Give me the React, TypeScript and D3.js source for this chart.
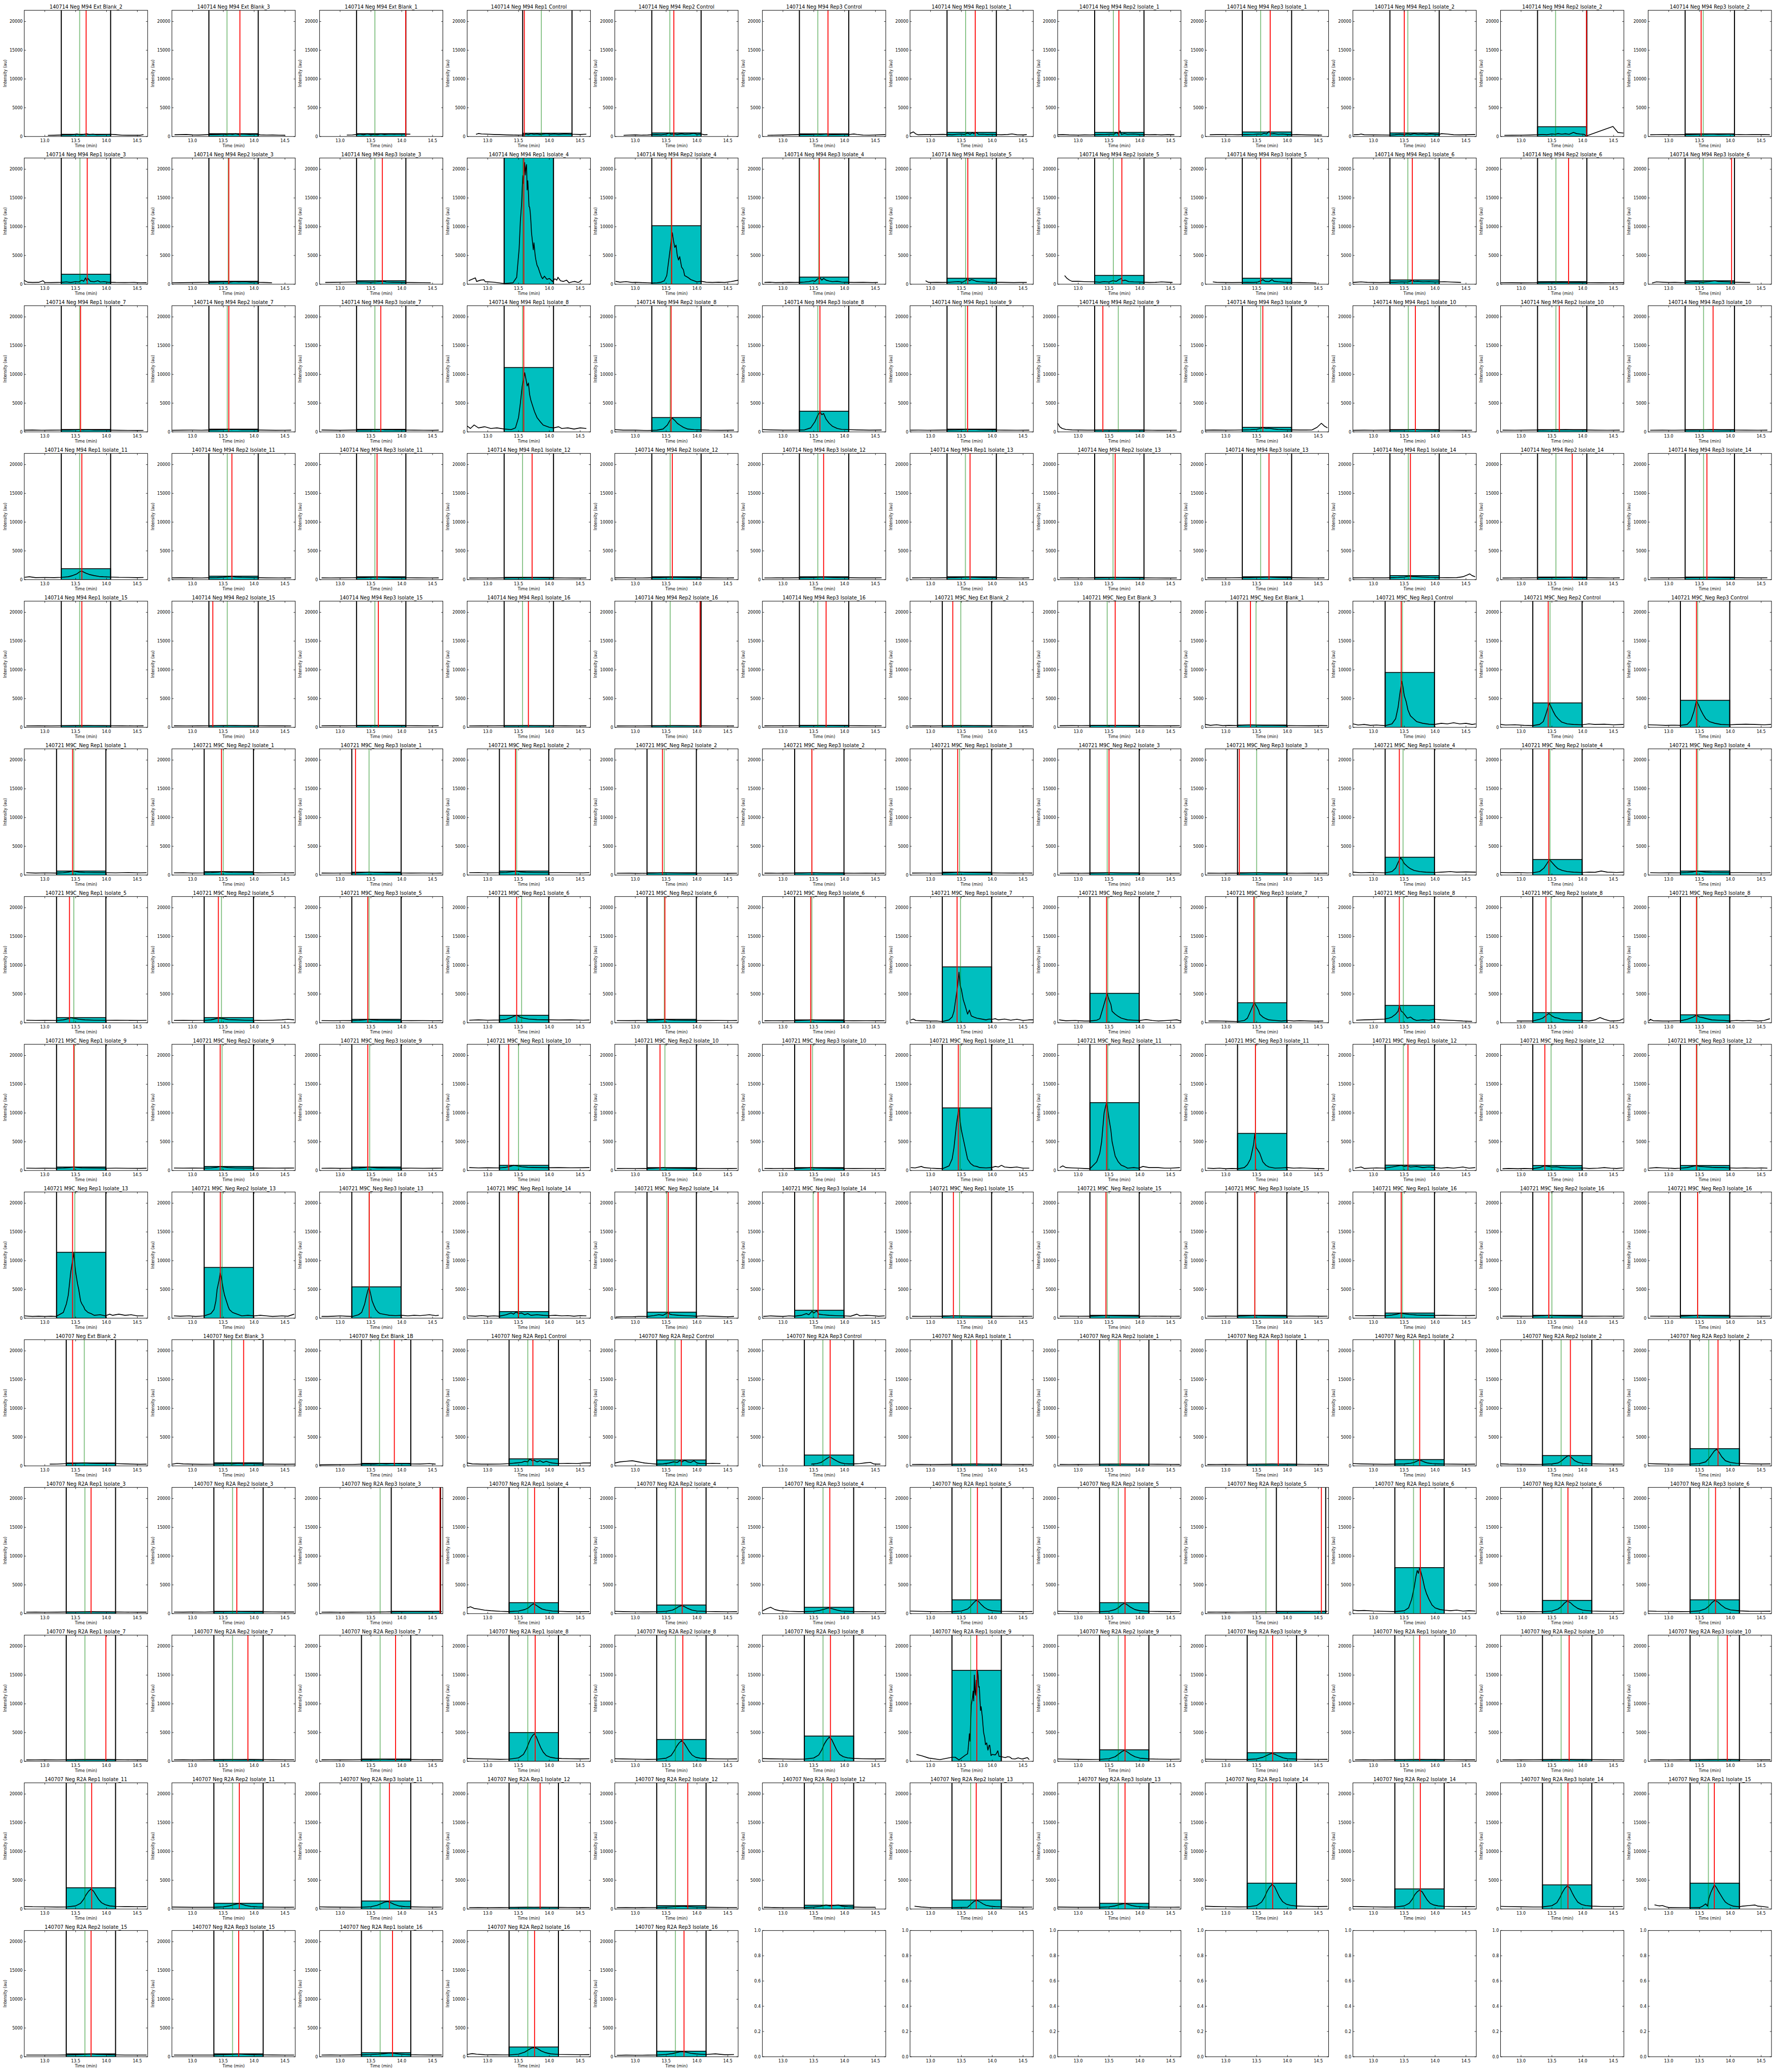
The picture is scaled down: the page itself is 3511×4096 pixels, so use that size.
import React from 'react';
import * as d3 from 'd3';

// grid of chromatogram panels, 12 per row
const COLS = 12;
const PANEL_W = 300;
const PANEL_H = 307;
const X_DOMAIN: [number, number] = [12.667, 14.667];
const Y_MAX = 21950;
const BOX_WIDTH = 0.8;

const xTicks = [13.0, 13.5, 14.0, 14.5];
const yTicks = [0, 5000, 10000, 15000, 20000];
const emptyYTicks = [0, 0.2, 0.4, 0.6, 0.8, 1.0];
const EMPTY_PANELS = 7;

const M94 = '140714 Neg M94';
const M9C = '140721 M9C_Neg';
const R2A = '140707 Neg R2A';
const reps = ['Rep1', 'Rep2', 'Rep3'];
const isolateNumbers = [1, 2, 3, 4, 5, 6, 7, 8, 9, 10, 11, 12, 13, 14, 15, 16];

const isolates = (prefix: string) =>
  isolateNumbers.flatMap(n => reps.map(r => `${prefix} ${r} Isolate_${n}`));

const panelTitles = [
  `${M94} Ext Blank_2`, `${M94} Ext Blank_3`, `${M94} Ext Blank_1`,
  `${M94} Rep1 Control`, `${M94} Rep2 Control`, `${M94} Rep3 Control`,
  ...isolates(M94),
  `${M9C} Ext Blank_2`, `${M9C} Ext Blank_3`, `${M9C} Ext Blank_1`,
  `${M9C} Rep1 Control`, `${M9C} Rep2 Control`, `${M9C} Rep3 Control`,
  ...isolates(M9C),
  '140707 Neg Ext Blank_2', '140707 Neg Ext Blank_3', '140707 Neg Ext Blank_1B',
  `${R2A} Rep1 Control`, `${R2A} Rep2 Control`, `${R2A} Rep3 Control`,
  ...isolates(R2A).filter(t => t !== `${R2A} Rep1 Isolate_13`),
];

// left edge of the integration window (min)
const boxStart = [
  13.267, 13.267, 13.267, 13.567, 13.267, 13.267, 13.267, 13.267, 13.267, 13.267, 13.267, 13.267,
  13.267, 13.267, 13.267, 13.267, 13.267, 13.267, 13.267, 13.267, 13.267, 13.267, 13.267, 13.267,
  13.267, 13.267, 13.267, 13.267, 13.267, 13.267, 13.267, 13.267, 13.267, 13.267, 13.267, 13.267,
  13.267, 13.267, 13.267, 13.267, 13.267, 13.267, 13.267, 13.267, 13.267, 13.267, 13.267, 13.267,
  13.267, 13.267, 13.267, 13.267, 13.267, 13.267, 13.19, 13.19, 13.19, 13.19, 13.19, 13.19,
  13.19, 13.19, 13.19, 13.19, 13.19, 13.19, 13.19, 13.19, 13.19, 13.19, 13.19, 13.19,
  13.19, 13.19, 13.19, 13.19, 13.19, 13.19, 13.19, 13.19, 13.19, 13.19, 13.19, 13.19,
  13.19, 13.19, 13.19, 13.19, 13.19, 13.19, 13.19, 13.19, 13.19, 13.19, 13.19, 13.19,
  13.19, 13.19, 13.19, 13.19, 13.19, 13.19, 13.19, 13.19, 13.19, 13.19, 13.19, 13.19,
  13.347, 13.347, 13.347, 13.347, 13.347, 13.347, 13.347, 13.347, 13.347, 13.347, 13.347, 13.347,
  13.347, 13.347, 13.83, 13.347, 13.347, 13.347, 13.347, 13.347, 13.82, 13.347, 13.347, 13.347,
  13.347, 13.347, 13.347, 13.347, 13.347, 13.347, 13.347, 13.347, 13.347, 13.347, 13.347, 13.347,
  13.347, 13.347, 13.347, 13.347, 13.347, 13.347, 13.347, 13.347, 13.347, 13.347, 13.347, 13.347,
  13.347, 13.347, 13.347, 13.347, 13.347,
];

// height of the shaded window (au)
const boxHeight = [
  380, 490, 490, 560, 620, 460, 720, 720, 790, 620, 1700, 460,
  1730, 510, 600, 23000, 10170, 1240, 1040, 1530, 1040, 740, 450, 600,
  420, 480, 450, 11200, 2500, 3600, 480, 350, 800, 400, 400, 400,
  1900, 600, 500, 400, 500, 500, 500, 400, 500, 700, 450, 450,
  300, 300, 350, 300, 300, 350, 300, 350, 400, 9540, 4250, 4700,
  700, 600, 500, 700, 400, 400, 500, 400, 400, 3100, 2700, 700,
  900, 900, 600, 1300, 600, 500, 9720, 5120, 3480, 3020, 1770, 1380,
  600, 700, 600, 900, 500, 500, 10880, 11800, 6450, 930, 870, 870,
  11460, 8830, 5450, 1150, 1050, 1380, 400, 500, 500, 900, 500, 500,
  510, 540, 440, 1230, 1030, 1890, 300, 300, 300, 1100, 1800, 3000,
  300, 400, 400, 1900, 1500, 1100, 2400, 1900, 400, 8000, 2300, 2400,
  300, 300, 400, 5000, 3800, 4400, 15820, 2000, 1500, 300, 300, 300,
  3700, 1000, 1400, 300, 590, 665, 1570, 1000, 4500, 3500, 4200, 4500,
  500, 500, 700, 1700, 960,
];

// expected retention time (green) and detected apex (red)
const greenLine = [
  13.565, 13.56, 13.565, 13.87, 13.56, 13.565, 13.568, 13.57, 13.565, 13.558, 13.56, 13.56,
  13.57, 13.58, 13.565, 13.57, 13.58, 13.58, 13.568, 13.57, 13.565, 13.558, 13.565, 13.56,
  13.565, 13.565, 13.565, 13.565, 13.565, 13.565, 13.565, 13.65, 13.565, 13.565, 13.565, 13.565,
  13.565, 13.565, 13.565, 13.565, 13.565, 13.565, 13.565, 13.565, 13.565, 13.565, 13.565, 13.565,
  13.565, 13.565, 13.565, 13.565, 13.565, 13.565, 13.49, 13.47, 13.49, 13.47, 13.47, 13.47,
  13.47, 13.5, 13.47, 13.47, 13.47, 13.47, 13.47, 13.47, 13.5, 13.48, 13.47, 13.47,
  13.47, 13.47, 13.47, 13.55, 13.47, 13.47, 13.485, 13.48, 13.47, 13.485, 13.487, 13.46,
  13.48, 13.48, 13.48, 13.5, 13.48, 13.48, 13.48, 13.48, 13.48, 13.485, 13.487, 13.46,
  13.486, 13.48, 13.47, 13.494, 13.51, 13.49, 13.47, 13.47, 13.47, 13.47, 13.5, 13.47,
  13.64, 13.636, 13.64, 13.65, 13.644, 13.647, 13.65, 13.65, 13.65, 13.65, 13.65, 13.65,
  13.65, 13.65, 13.65, 13.65, 13.65, 13.65, 13.65, 13.65, 13.65, 13.65, 13.65, 13.65,
  13.65, 13.65, 13.65, 13.65, 13.65, 13.65, 13.65, 13.65, 13.65, 13.65, 13.65, 13.8,
  13.65, 13.65, 13.65, 13.65, 13.65, 13.65, 13.65, 13.65, 13.65, 13.65, 13.65, 13.644,
  13.65, 13.65, 13.65, 13.65, 13.65,
];

const redLine = [
  13.67, 13.77, 14.065, 13.594, 13.625, 13.73, 13.724, 13.66, 13.72, 13.5, 14.06, 13.526,
  13.688, 13.59, 13.685, 13.586, 13.59, 13.59, 13.604, 13.708, 13.565, 13.63, 13.77, 14.02,
  13.58, 13.59, 13.66, 13.585, 13.58, 13.6, 13.6, 13.4, 13.6, 13.68, 13.62, 13.72,
  13.6, 13.64, 13.6, 13.72, 13.6, 13.66, 13.64, 13.6, 13.7, 13.6, 13.83, 13.62,
  13.6, 13.33, 13.62, 13.66, 14.05, 13.7, 13.36, 13.6, 13.4, 13.45, 13.44, 13.45,
  13.45, 13.47, 13.25, 13.45, 13.44, 13.47, 13.44, 13.5, 13.22, 13.42, 13.45, 13.45,
  13.4, 13.42, 13.45, 13.47, 13.48, 13.45, 13.43, 13.46, 13.454, 13.42, 13.404, 13.45,
  13.47, 13.45, 13.45, 13.34, 13.4, 13.45, 13.45, 13.46, 13.48, 13.56, 13.386, 13.45,
  13.45, 13.452, 13.473, 13.5, 13.534, 13.57, 13.37, 13.45, 13.47, 13.45, 13.45, 13.47,
  13.45, 13.83, 13.88, 13.733, 13.745, 13.766, 13.75, 13.68, 13.85, 13.75, 13.8, 13.8,
  13.75, 13.72, 14.62, 13.76, 13.76, 13.76, 13.76, 13.76, 14.55, 13.76, 13.76, 13.76,
  13.99, 13.9, 13.9, 13.77, 13.77, 13.77, 13.75, 13.76, 13.76, 13.75, 13.78, 13.95,
  13.76, 13.76, 13.8, 13.85, 13.85, 13.79, 13.74, 13.76, 13.76, 13.76, 13.76, 13.74,
  13.75, 13.75, 13.85, 13.76, 13.79,
];

// chromatograms as "time intensity" pairs
const traces = [
  '13.05 200 13.15 220 13.27 260 13.35 300 13.42 280 13.48 350 13.52 450 13.56 330 13.6 300 13.64 380 13.68 480 13.72 330 13.78 400 13.84 300 13.9 330 13.98 340 14.07 380 14.15 320 14.25 230 14.35 220 14.45 210 14.55 220 14.6 330',
  '12.71 300 12.8 320 12.9 350 13.0 280 13.1 260 13.2 300 13.3 350 13.4 330 13.5 400 13.55 350 13.6 420 13.65 360 13.7 480 13.75 330 13.8 420 13.88 380 13.95 330 14.02 400 14.1 280 14.2 250 14.3 260 14.4 230 14.5 220',
  '13.11 250 13.2 270 13.27 350 13.32 420 13.38 300 13.44 460 13.5 320 13.56 380 13.6 300 13.66 450 13.72 350 13.8 420 13.88 380 13.95 430 14.02 400 14.1 420 14.14 400',
  '12.81 380 12.85 520 12.9 450 13.0 400 13.1 350 13.2 320 13.3 280 13.4 260 13.5 240 13.57 260 13.62 420 13.66 320 13.7 500 13.75 380 13.8 450 13.85 350 13.9 420 13.96 500 14.02 380 14.08 440 14.15 360 14.25 460 14.32 400 14.4 380 14.5 350 14.6 400',
  '12.81 200 12.9 250 13.0 280 13.1 230 13.2 260 13.27 300 13.35 330 13.42 280 13.5 400 13.55 620 13.58 380 13.63 450 13.68 350 13.75 480 13.8 380 13.88 420 13.95 550 14.0 380 14.07 420 14.12 300 14.17 320',
  '12.75 200 12.85 230 13.0 260 13.15 300 13.27 330 13.35 350 13.45 320 13.55 400 13.6 330 13.65 380 13.7 460 13.74 300 13.8 350 13.9 320 14.0 380 14.07 330 14.15 430 14.2 360 14.3 250 14.4 230 14.5 270 14.6 300 14.66 320',
  '12.66 500 12.72 800 12.76 450 12.8 300 12.9 320 13.0 330 13.1 350 13.2 370 13.27 350 13.35 300 13.42 380 13.5 420 13.55 350 13.6 600 13.64 380 13.68 650 13.7 450 13.74 700 13.78 380 13.85 400 13.92 350 14.0 380 14.07 330 14.15 300 14.25 350 14.32 450 14.4 300 14.5 280 14.56 320',
  '12.67 300 12.75 330 12.85 280 13.0 250 13.1 280 13.2 270 13.27 300 13.35 320 13.45 350 13.52 400 13.58 380 13.62 700 13.65 400 13.68 1000 13.7 350 13.75 500 13.8 380 13.9 420 14.0 350 14.07 330 14.15 300 14.25 320 14.35 280 14.45 330 14.56 300',
  '12.74 300 12.85 320 12.95 330 13.1 310 13.2 300 13.27 320 13.35 330 13.45 360 13.52 420 13.58 380 13.62 550 13.66 420 13.7 900 13.73 450 13.78 500 13.85 380 13.92 420 14.0 350 14.06 300 14.15 320 14.3 280 14.45 260 14.56 250',
  '12.68 300 12.75 320 12.8 420 12.85 300 13.0 280 13.15 270 13.27 250 13.35 300 13.42 380 13.5 320 13.55 450 13.6 350 13.66 500 13.72 380 13.8 420 13.86 350 13.92 430 14.0 370 14.06 330 14.1 500 14.2 420 14.3 300 14.4 280 14.5 300 14.6 330 14.65 350',
  '12.73 200 12.85 220 13.0 230 13.15 260 13.27 300 13.35 350 13.42 300 13.5 450 13.55 380 13.6 500 13.66 400 13.72 480 13.78 380 13.85 700 13.9 500 13.96 420 14.02 380 14.06 100 14.49 1750 14.57 700 14.66 600',
  '12.7 300 12.8 310 12.95 320 13.1 300 13.27 320 13.35 330 13.45 360 13.55 400 13.62 380 13.7 420 13.8 360 13.9 380 14.0 420 14.06 340 14.15 320 14.25 310 14.35 320 14.45 330 14.55 340 14.64 300',
  '12.66 700 12.72 350 12.8 300 12.9 320 12.97 600 13.0 300 13.1 280 13.2 300 13.27 320 13.35 400 13.42 300 13.5 450 13.55 380 13.6 700 13.63 500 13.66 1100 13.68 600 13.7 1000 13.74 500 13.8 420 13.86 600 13.9 380 13.96 450 14.02 350 14.07 330 14.15 300 14.3 280 14.45 300 14.55 250 14.65 260',
  '12.67 250 12.8 260 12.95 280 13.1 300 13.27 320 13.35 350 13.45 380 13.55 420 13.6 350 13.68 450 13.75 380 13.85 420 13.95 350 14.02 400 14.07 330 14.15 300 14.22 280 14.29 250',
  '12.76 300 12.9 330 13.05 360 13.2 380 13.3 400 13.4 380 13.5 350 13.6 400 13.66 450 13.7 520 13.75 380 13.85 350 13.95 330 14.06 300 14.2 280 14.35 270 14.47 250',
  '12.69 600 12.8 1100 12.82 480 12.89 720 12.94 760 12.96 430 13.09 360 13.27 120 13.41 240 13.47 1200 13.51 6200 13.53 11000 13.55 14000 13.56 16700 13.57 18900 13.58 17500 13.6 21150 13.61 19000 13.62 20300 13.63 20800 13.64 16400 13.65 18000 13.66 15900 13.67 13500 13.68 13400 13.69 12500 13.7 11000 13.71 9000 13.72 8000 13.74 6000 13.75 7200 13.77 5000 13.78 4300 13.8 3300 13.82 2870 13.84 2200 13.85 1900 13.87 1300 13.89 950 13.92 1400 13.96 840 14.0 1000 14.05 480 14.09 950 14.12 700 14.14 1200 14.18 600 14.23 480 14.28 700 14.32 240 14.37 400 14.41 480 14.47 300 14.53 720',
  '12.68 500 12.75 350 12.85 450 12.95 300 13.0 320 13.1 280 13.2 250 13.27 200 13.35 250 13.42 350 13.47 600 13.51 1500 13.54 4000 13.57 6500 13.6 8960 13.62 7500 13.64 6400 13.66 6800 13.68 5000 13.7 4200 13.72 4800 13.75 3000 13.78 2500 13.8 1500 13.85 1200 13.9 800 13.95 600 14.0 400 14.07 500 14.15 350 14.25 300 14.35 350 14.45 300 14.55 450 14.67 700',
  '12.7 300 12.78 350 12.88 280 13.0 300 13.1 320 13.2 300 13.27 330 13.35 380 13.42 450 13.48 600 13.52 500 13.56 900 13.6 1100 13.63 700 13.66 1000 13.7 700 13.75 550 13.8 450 13.88 500 13.95 380 14.02 350 14.07 330 14.15 300 14.3 320 14.45 280 14.54 300',
  '12.92 600 12.96 350 13.0 300 13.1 320 13.2 300 13.27 330 13.35 380 13.45 450 13.52 350 13.58 700 13.6 1050 13.63 600 13.66 800 13.7 700 13.74 500 13.8 420 13.88 380 13.95 350 14.07 330 14.15 320 14.25 300 14.35 280 14.45 300 14.56 300',
  '12.78 1500 12.82 1000 12.86 700 12.9 500 13.0 500 13.1 450 13.2 420 13.27 400 13.35 350 13.42 450 13.5 380 13.56 600 13.62 500 13.66 800 13.7 1000 13.72 600 13.76 700 13.82 450 13.9 400 14.0 380 14.07 350 14.15 300 14.25 320 14.35 400 14.45 350 14.53 300',
  '12.79 400 12.85 320 12.95 300 13.1 280 13.27 300 13.35 320 13.45 300 13.52 380 13.57 600 13.6 800 13.64 500 13.7 450 13.75 800 13.78 500 13.85 420 13.95 350 14.06 300 14.2 280 14.35 250 14.47 200',
  '12.66 300 12.72 350 12.8 400 12.9 330 13.0 300 13.1 280 13.2 300 13.27 320 13.35 350 13.45 400 13.55 380 13.6 500 13.63 700 13.66 450 13.72 500 13.8 400 13.9 450 14.0 380 14.07 400 14.15 420 14.25 380 14.35 350 14.42 300',
  '12.67 250 12.85 260 13.0 240 13.2 250 13.35 280 13.5 300 13.65 320 13.8 280 13.95 300 14.1 270 14.3 260 14.5 270 14.67 280',
  '12.73 200 12.8 400 12.9 350 13.0 300 13.1 320 13.2 280 13.27 300 13.35 380 13.45 420 13.55 350 13.65 450 13.75 600 13.8 480 13.9 420 14.0 380 14.07 350 14.15 320 14.25 300 14.32 300',
  '12.67 300 12.8 320 12.95 290 13.1 300 13.27 310 13.4 330 13.5 360 13.56 420 13.62 350 13.7 380 13.8 330 13.9 350 14.0 320 14.07 300 14.2 280 14.35 270 14.5 260 14.6 270',
  '12.67 280 12.85 300 13.0 310 13.15 290 13.27 320 13.4 350 13.5 380 13.58 460 13.63 380 13.7 420 13.8 360 13.92 380 14.07 330 14.2 300 14.35 280 14.5 290 14.6 300',
  '12.7 320 12.85 300 13.0 280 13.15 300 13.27 330 13.38 360 13.48 340 13.56 400 13.62 380 13.67 440 13.72 360 13.8 390 13.9 350 14.0 370 14.07 320 14.2 300 14.35 290 14.5 280 14.6 300',
  '12.67 1000 12.72 600 12.78 1200 12.85 700 12.95 900 13.05 600 13.15 700 13.27 500 13.38 400 13.45 700 13.5 2500 13.53 5000 13.56 8000 13.58 9000 13.6 10300 13.62 9200 13.64 8000 13.66 8500 13.68 6500 13.7 5500 13.73 4500 13.76 3500 13.8 2500 13.85 1800 13.9 1200 13.95 1000 14.0 800 14.07 700 14.15 900 14.2 600 14.3 700 14.4 500 14.5 700 14.6 600',
  '12.67 400 12.8 300 13.0 300 13.2 250 13.35 300 13.45 500 13.52 1200 13.56 2000 13.6 2400 13.64 2000 13.68 1500 13.72 1200 13.78 800 13.85 500 13.95 400 14.07 350 14.2 300 14.4 280 14.6 300',
  '12.67 400 12.8 350 13.0 300 13.2 300 13.35 350 13.45 700 13.52 1800 13.56 2800 13.6 3500 13.63 3000 13.66 3200 13.7 2200 13.75 1500 13.8 1000 13.88 600 13.95 450 14.07 400 14.2 350 14.4 300 14.6 320',
  '12.67 300 12.8 310 12.95 290 13.1 300 13.27 320 13.4 340 13.5 380 13.58 460 13.62 400 13.7 420 13.8 360 13.9 340 14.0 350 14.07 320 14.2 300 14.4 290 14.6 300',
  '12.67 1500 12.7 900 12.74 600 12.8 420 12.9 350 13.0 320 13.15 300 13.27 300 13.4 320 13.5 340 13.6 330 13.7 350 13.8 320 13.9 330 14.07 300 14.2 290 14.4 280 14.6 290',
  '12.67 300 12.8 320 13.0 300 13.15 310 13.27 340 13.4 380 13.5 450 13.56 600 13.6 750 13.65 600 13.7 650 13.78 500 13.85 420 13.95 380 14.07 350 14.2 330 14.3 320 14.4 350 14.48 800 14.55 1500 14.6 1000 14.65 700',
  '12.67 280 12.85 300 13.0 290 13.2 300 13.27 310 13.4 330 13.5 350 13.6 380 13.68 420 13.75 360 13.85 350 14.0 330 14.07 300 14.25 290 14.45 280 14.6 290',
  '12.7 300 12.9 290 13.05 300 13.27 320 13.4 340 13.5 360 13.58 400 13.63 370 13.72 390 13.85 350 13.95 340 14.07 320 14.2 300 14.4 290 14.6 300',
  '12.7 290 12.9 300 13.1 290 13.27 310 13.4 330 13.5 340 13.6 360 13.7 390 13.75 370 13.85 350 14.0 330 14.07 310 14.25 300 14.45 290 14.6 300',
  '12.67 400 12.75 500 12.85 350 13.0 380 13.15 350 13.27 400 13.38 500 13.45 700 13.52 1000 13.57 1400 13.6 1500 13.63 1300 13.67 1100 13.72 900 13.8 700 13.88 550 13.95 500 14.07 450 14.2 400 14.35 380 14.5 350 14.6 380',
  '12.67 300 12.8 320 13.0 300 13.15 290 13.27 320 13.4 350 13.5 420 13.58 500 13.64 560 13.7 450 13.8 400 13.9 380 14.07 330 14.2 300 14.4 290 14.6 300',
  '12.7 300 12.85 290 13.0 300 13.2 310 13.27 320 13.4 350 13.52 400 13.6 460 13.66 400 13.75 380 13.85 350 14.0 330 14.07 310 14.25 300 14.45 290 14.6 300',
  '12.7 280 12.9 290 13.1 280 13.27 300 13.4 320 13.5 340 13.6 330 13.7 360 13.78 340 13.88 330 14.07 300 14.25 290 14.45 280 14.6 290',
  '12.67 300 12.85 310 13.0 290 13.2 300 13.27 320 13.4 350 13.5 380 13.58 440 13.65 400 13.75 380 13.85 360 14.0 340 14.07 320 14.25 300 14.45 290 14.6 300',
  '12.7 290 12.9 300 13.1 300 13.27 320 13.4 340 13.5 370 13.6 420 13.66 460 13.72 400 13.82 370 13.95 340 14.07 320 14.25 300 14.45 300 14.6 310',
  '12.7 300 12.9 310 13.1 300 13.27 320 13.4 350 13.5 380 13.58 450 13.64 420 13.72 400 13.82 370 13.95 340 14.07 320 14.25 300 14.45 290 14.6 300',
  '12.7 290 12.9 300 13.1 290 13.27 300 13.4 320 13.5 350 13.6 380 13.68 360 13.78 340 13.9 330 14.07 300 14.25 290 14.45 280 14.6 290',
  '12.7 300 12.9 300 13.1 310 13.27 330 13.4 350 13.5 380 13.6 400 13.7 450 13.76 400 13.85 370 13.95 350 14.07 320 14.25 300 14.45 290 14.6 300',
  '12.67 300 12.85 310 13.0 300 13.2 300 13.27 320 13.4 380 13.5 450 13.58 600 13.63 550 13.7 500 13.8 450 13.9 400 14.0 380 14.07 350 14.2 330 14.35 350 14.45 500 14.52 800 14.56 1000 14.6 700 14.65 500',
  '12.7 280 12.9 290 13.1 300 13.27 310 13.4 330 13.5 350 13.6 380 13.7 360 13.83 400 13.9 350 14.0 330 14.07 310 14.25 300 14.45 290 14.6 300',
  '12.7 290 12.9 300 13.1 300 13.27 320 13.4 340 13.5 360 13.6 400 13.7 380 13.8 360 13.9 350 14.07 320 14.25 300 14.45 300 14.6 310',
  '12.7 250 12.9 260 13.1 250 13.27 270 13.4 280 13.5 300 13.6 320 13.7 300 13.8 290 13.95 280 14.07 270 14.25 260 14.45 250 14.6 260',
  '12.7 260 12.9 250 13.1 260 13.27 270 13.4 290 13.5 300 13.6 310 13.7 300 13.8 290 13.95 280 14.07 270 14.25 260 14.45 260 14.6 250',
  '12.7 270 12.9 280 13.1 270 13.27 290 13.4 300 13.5 320 13.62 350 13.7 330 13.8 310 13.95 300 14.07 290 14.25 280 14.45 270 14.6 280',
  '12.7 250 12.9 260 13.1 270 13.27 280 13.4 280 13.5 290 13.66 300 13.75 290 13.9 280 14.07 270 14.25 260 14.45 250 14.6 260',
  '12.7 240 12.9 250 13.1 250 13.27 260 13.4 270 13.5 280 13.6 290 13.75 280 13.9 270 14.07 260 14.25 250 14.45 250 14.6 240',
  '12.7 260 12.9 270 13.1 280 13.27 290 13.4 300 13.55 320 13.7 340 13.8 320 13.95 300 14.07 290 14.25 280 14.45 270 14.6 270',
  '12.7 250 12.9 260 13.05 250 13.19 270 13.3 290 13.4 300 13.5 320 13.6 300 13.7 290 13.85 280 13.99 270 14.15 260 14.35 250 14.55 260 14.65 250',
  '12.7 280 12.9 300 13.05 290 13.19 300 13.3 330 13.42 350 13.5 330 13.6 340 13.75 320 13.9 300 13.99 290 14.15 280 14.35 270 14.55 280 14.65 290',
  '12.67 500 12.75 350 12.85 450 12.95 300 13.05 350 13.19 320 13.3 380 13.4 420 13.5 380 13.6 350 13.75 340 13.9 320 13.99 300 14.15 290 14.35 280 14.55 300 14.65 290',
  '12.67 600 12.75 400 12.85 500 12.95 350 13.05 400 13.19 300 13.3 600 13.36 1500 13.4 3500 13.43 6000 13.46 8000 13.48 7000 13.5 5500 13.53 4500 13.56 3000 13.6 2000 13.65 1500 13.7 1000 13.8 700 13.9 550 13.99 500 14.1 700 14.2 600 14.3 800 14.4 600 14.5 700 14.6 500 14.66 600',
  '12.67 500 12.75 400 12.9 450 13.05 350 13.19 300 13.3 500 13.36 1000 13.4 2200 13.44 3600 13.46 4200 13.49 3500 13.52 2800 13.56 2000 13.6 1500 13.66 900 13.75 600 13.85 500 13.99 450 14.1 600 14.2 500 14.35 550 14.5 450 14.66 500',
  '12.67 450 12.8 400 12.95 350 13.1 380 13.19 350 13.3 500 13.36 1200 13.41 2800 13.45 4600 13.48 4000 13.52 3000 13.56 2200 13.6 1500 13.66 1000 13.75 700 13.85 500 13.99 450 14.1 500 14.25 550 14.4 500 14.55 450 14.66 500',
  '12.7 400 12.85 350 13.0 380 13.19 350 13.3 400 13.4 550 13.45 700 13.5 600 13.56 500 13.65 450 13.8 420 13.99 400 14.15 380 14.35 420 14.55 380 14.65 400',
  '12.7 380 12.85 400 13.0 360 13.19 380 13.3 420 13.42 500 13.48 600 13.55 500 13.65 450 13.8 420 13.99 400 14.15 380 14.35 400 14.55 380 14.65 390',
  '12.7 350 12.9 340 13.05 360 13.19 350 13.3 380 13.42 450 13.48 500 13.56 430 13.7 400 13.85 380 13.99 360 14.15 350 14.35 360 14.55 340 14.65 350',
  '12.7 400 12.85 420 13.0 380 13.19 400 13.3 450 13.42 600 13.46 700 13.52 550 13.62 480 13.75 450 13.9 420 13.99 400 14.15 420 14.35 400 14.55 380 14.65 420',
  '12.7 320 12.9 330 13.05 300 13.19 320 13.3 340 13.42 380 13.48 400 13.56 370 13.7 350 13.85 330 13.99 320 14.15 310 14.35 320 14.55 300 14.65 310',
  '12.7 330 12.9 320 13.05 330 13.19 340 13.3 350 13.42 380 13.5 400 13.58 370 13.7 350 13.85 340 13.99 330 14.15 320 14.35 330 14.55 320 14.65 330',
  '12.7 350 12.9 360 13.05 340 13.19 350 13.3 380 13.42 450 13.48 500 13.56 430 13.7 400 13.85 380 13.99 370 14.15 360 14.35 350 14.55 360 14.65 350',
  '12.7 320 12.9 330 13.05 310 13.19 330 13.3 350 13.42 370 13.5 400 13.6 370 13.72 350 13.85 340 13.99 330 14.15 320 14.35 320 14.55 310 14.65 320',
  '12.7 330 12.9 320 13.05 330 13.19 330 13.3 350 13.45 380 13.52 400 13.62 370 13.75 350 13.88 340 13.99 330 14.15 320 14.35 330 14.55 320 14.65 330',
  '12.67 500 12.8 400 12.95 450 13.1 400 13.19 380 13.3 600 13.36 1200 13.4 2200 13.44 3000 13.47 2600 13.5 2000 13.55 1500 13.6 1100 13.66 800 13.75 600 13.85 500 13.99 450 14.1 500 14.25 600 14.35 500 14.5 550 14.66 500',
  '12.67 450 12.8 400 12.95 420 13.1 380 13.19 400 13.3 600 13.37 1200 13.42 2000 13.46 2700 13.5 2200 13.55 1600 13.6 1100 13.67 800 13.75 600 13.85 500 13.99 450 14.1 500 14.2 480 14.3 700 14.4 500 14.55 450 14.66 500',
  '12.7 400 12.85 380 13.0 400 13.19 380 13.3 450 13.4 550 13.46 700 13.52 600 13.6 500 13.7 450 13.85 420 13.99 400 14.15 420 14.35 400 14.55 380 14.65 400',
  '12.7 450 12.85 400 13.0 420 13.19 400 13.3 500 13.38 700 13.42 900 13.48 750 13.55 600 13.65 500 13.8 450 13.99 420 14.15 450 14.35 420 14.55 400 14.65 430',
  '12.7 400 12.85 420 13.0 400 13.19 420 13.3 500 13.38 700 13.42 850 13.5 700 13.58 550 13.7 500 13.85 450 13.99 420 14.15 400 14.3 450 14.45 500 14.55 600 14.65 500',
  '12.7 380 12.9 360 13.05 380 13.19 370 13.3 420 13.4 500 13.46 600 13.52 500 13.62 450 13.75 420 13.9 400 13.99 380 14.15 370 14.35 380 14.55 360 14.65 370',
  '12.7 450 12.85 500 13.0 450 13.19 480 13.3 600 13.38 900 13.44 1200 13.48 1300 13.52 1000 13.58 800 13.66 650 13.8 550 13.99 500 14.15 480 14.35 500 14.55 450 14.65 480',
  '12.7 380 12.9 370 13.05 390 13.19 380 13.3 420 13.42 520 13.48 600 13.55 500 13.65 450 13.8 420 13.99 400 14.15 390 14.35 400 14.55 380 14.65 390',
  '12.7 350 12.9 360 13.05 350 13.19 360 13.3 400 13.42 450 13.46 500 13.54 430 13.65 400 13.8 380 13.99 360 14.15 350 14.35 360 14.55 350 14.65 360',
  '12.68 500 12.72 650 12.76 400 12.85 350 13.0 300 13.1 320 13.19 200 13.3 500 13.35 1000 13.38 2000 13.42 5000 13.44 6500 13.46 8800 13.48 6500 13.5 5800 13.53 4000 13.56 3000 13.6 1500 13.63 2200 13.66 1200 13.7 1000 13.75 800 13.8 700 13.9 500 13.95 650 14.0 600 14.05 700 14.1 500 14.2 650 14.3 450 14.4 600 14.5 400 14.6 500 14.67 500',
  '12.69 500 12.8 350 12.95 400 13.1 300 13.19 300 13.3 450 13.35 700 13.4 2500 13.44 4000 13.47 5000 13.5 4000 13.53 3200 13.55 2000 13.6 1500 13.65 1100 13.7 800 13.8 500 13.9 450 14.0 400 14.1 550 14.2 400 14.3 300 14.45 400 14.6 500 14.67 300',
  '12.72 300 12.85 320 13.0 280 13.19 200 13.3 400 13.35 800 13.4 2000 13.44 3000 13.46 3500 13.5 2800 13.53 2200 13.55 1500 13.6 1000 13.65 700 13.7 500 13.8 400 13.9 300 14.0 400 14.1 300 14.2 350 14.35 300 14.45 280 14.58 300',
  '12.72 450 12.85 500 13.0 550 13.1 600 13.18 650 13.25 800 13.3 1000 13.36 1500 13.4 2000 13.42 3000 13.45 2000 13.48 1800 13.5 1500 13.55 800 13.6 1000 13.65 600 13.7 400 13.8 500 13.9 450 13.98 600 14.1 500 14.3 400 14.45 300 14.6 250',
  '12.93 300 13.05 320 13.18 300 13.3 600 13.35 800 13.4 1200 13.45 1600 13.5 1200 13.55 900 13.6 800 13.65 600 13.7 500 13.8 450 13.9 400 13.98 400 14.1 300 14.2 500 14.28 900 14.35 600 14.45 300 14.55 350 14.6 400 14.66 700',
  '12.68 300 12.7 600 12.75 350 12.9 300 13.0 300 13.19 350 13.3 600 13.38 900 13.45 1300 13.5 1000 13.55 900 13.62 700 13.7 500 13.8 450 13.9 400 13.99 300 14.1 400 14.2 350 14.3 400 14.45 300 14.55 400 14.64 700',
  '12.7 400 12.85 380 13.0 400 13.19 380 13.3 430 13.4 500 13.47 600 13.52 520 13.6 450 13.75 420 13.9 400 13.99 380 14.15 400 14.35 380 14.55 370 14.65 390',
  '12.7 420 12.85 400 13.0 430 13.19 400 13.3 450 13.4 550 13.45 700 13.5 600 13.58 500 13.7 450 13.85 420 13.99 410 14.15 430 14.35 400 14.55 410 14.65 420',
  '12.7 380 12.85 400 13.0 370 13.19 380 13.3 420 13.4 500 13.45 600 13.52 520 13.6 460 13.75 420 13.9 400 13.99 390 14.15 400 14.35 380 14.55 390 14.65 400',
  '12.7 500 12.85 450 13.0 480 13.19 450 13.3 550 13.36 700 13.42 900 13.48 800 13.55 650 13.65 550 13.8 500 13.99 480 14.15 500 14.35 470 14.55 480 14.65 500',
  '12.7 350 12.85 360 13.0 340 13.19 350 13.3 380 13.4 450 13.46 500 13.52 430 13.62 400 13.75 380 13.9 360 13.99 350 14.15 360 14.35 340 14.55 350 14.65 360',
  '12.7 360 12.85 340 13.0 360 13.19 350 13.3 390 13.4 450 13.46 500 13.53 440 13.62 400 13.75 380 13.9 370 13.99 360 14.15 350 14.35 360 14.55 340 14.65 350',
  '12.68 500 12.75 450 12.85 700 12.9 500 13.0 400 13.1 350 13.19 300 13.3 800 13.35 2000 13.38 4000 13.42 8000 13.44 9500 13.46 10900 13.48 8500 13.5 7000 13.53 5500 13.55 4500 13.58 3000 13.6 2000 13.65 1200 13.7 800 13.75 700 13.8 500 13.9 450 13.99 500 14.05 700 14.1 600 14.15 900 14.2 600 14.3 500 14.4 600 14.5 400 14.6 400',
  '12.7 500 12.75 800 12.8 500 12.9 450 13.0 400 13.1 350 13.19 300 13.3 1500 13.35 3000 13.38 5000 13.42 10000 13.44 11000 13.46 11800 13.48 10500 13.5 9000 13.53 7000 13.55 5000 13.58 3500 13.6 2500 13.65 1500 13.7 900 13.75 700 13.8 400 13.9 500 13.98 400 14.05 700 14.15 500 14.3 500 14.4 400 14.5 400 14.65 500',
  '12.7 400 12.8 350 12.9 400 13.0 300 13.1 350 13.2 300 13.3 500 13.35 1000 13.4 2000 13.42 3000 13.45 4500 13.47 6400 13.49 4000 13.52 3500 13.55 3000 13.6 1500 13.65 900 13.7 600 13.8 400 13.9 450 14.0 500 14.1 400 14.2 450 14.3 400 14.45 350 14.6 300',
  '12.7 400 12.8 600 12.85 350 12.95 400 13.05 450 13.18 400 13.3 600 13.4 800 13.45 900 13.5 700 13.55 800 13.6 600 13.7 700 13.8 500 13.9 600 13.98 500 14.1 400 14.2 500 14.3 400 14.45 600 14.55 400 14.65 500',
  '12.7 300 12.8 350 12.95 300 13.05 350 13.18 300 13.3 500 13.38 800 13.45 700 13.5 600 13.58 650 13.65 500 13.75 450 13.85 400 13.98 450 14.1 350 14.25 400 14.35 500 14.45 400 14.55 350 14.65 450',
  '12.68 400 12.8 500 12.9 450 13.0 400 13.1 350 13.19 400 13.3 500 13.38 700 13.45 850 13.5 700 13.58 650 13.7 550 13.8 500 13.9 500 13.99 450 14.1 400 14.25 450 14.4 400 14.5 450 14.6 400',
  '12.67 400 12.8 300 12.9 350 13.0 300 13.1 350 13.18 300 13.3 1000 13.35 2500 13.38 4000 13.42 8000 13.45 10000 13.47 11300 13.49 9000 13.5 8000 13.53 6000 13.55 5000 13.58 3000 13.6 2500 13.63 2000 13.65 1500 13.7 1000 13.75 800 13.8 500 13.9 600 13.98 400 14.05 700 14.1 500 14.2 700 14.3 500 14.4 600 14.5 400 14.6 400',
  '12.7 400 12.8 350 12.95 400 13.05 300 13.19 400 13.3 800 13.35 1500 13.38 3000 13.4 5000 13.43 6500 13.45 7900 13.47 7000 13.5 5000 13.52 4000 13.55 3000 13.58 2000 13.6 1500 13.65 1000 13.7 800 13.8 400 13.9 500 14.0 400 14.1 500 14.2 400 14.3 300 14.45 400 14.55 350 14.65 700',
  '12.7 300 12.8 300 12.9 350 13.0 400 13.1 350 13.2 300 13.3 600 13.35 1000 13.4 2500 13.42 3500 13.45 4800 13.47 5400 13.5 4000 13.52 3000 13.55 2200 13.58 1500 13.62 1000 13.65 800 13.75 600 13.8 500 13.9 450 14.0 500 14.1 400 14.2 500 14.3 450 14.45 600 14.55 450 14.6 500',
  '12.68 400 12.8 350 12.9 450 13.0 350 13.1 400 13.19 350 13.3 600 13.38 900 13.42 700 13.46 1100 13.5 800 13.55 900 13.6 600 13.65 800 13.7 500 13.8 600 13.9 500 13.99 450 14.1 500 14.2 400 14.3 450 14.4 350 14.5 450 14.6 400',
  '12.68 200 12.8 250 12.95 250 13.05 300 13.19 300 13.3 450 13.38 600 13.45 500 13.5 800 13.53 1000 13.56 700 13.6 600 13.7 500 13.8 450 13.9 400 13.99 350 14.1 400 14.2 350 14.35 300 14.5 250 14.6 300',
  '12.68 300 12.8 400 12.9 350 13.0 300 13.1 400 13.19 350 13.3 500 13.38 800 13.42 600 13.47 1200 13.5 900 13.55 1300 13.58 700 13.65 600 13.75 500 13.85 450 13.99 400 14.1 350 14.2 700 14.25 400 14.35 500 14.45 450 14.55 350 14.65 400',
  '12.7 330 12.85 320 13.0 340 13.19 330 13.3 360 13.37 420 13.45 400 13.55 380 13.65 360 13.8 350 13.99 340 14.15 330 14.35 340 14.55 330 14.65 340',
  '12.7 350 12.85 360 13.0 340 13.19 350 13.3 380 13.4 430 13.45 480 13.52 420 13.62 400 13.75 380 13.9 360 13.99 350 14.15 360 14.35 350 14.55 340 14.65 350',
  '12.7 360 12.85 350 13.0 370 13.19 360 13.3 390 13.4 430 13.47 480 13.55 420 13.65 400 13.8 380 13.99 370 14.15 360 14.35 370 14.55 350 14.65 360',
  '12.7 450 12.85 420 13.0 460 13.19 430 13.3 550 13.38 700 13.44 900 13.5 750 13.58 650 13.7 550 13.85 500 13.99 480 14.15 500 14.35 470 14.55 460 14.65 480',
  '12.7 350 12.85 370 13.0 350 13.19 360 13.3 400 13.4 450 13.46 500 13.54 440 13.64 400 13.78 380 13.99 360 14.15 350 14.35 360 14.55 350 14.65 360',
  '12.7 360 12.85 350 13.0 360 13.19 350 13.3 390 13.42 450 13.47 500 13.55 430 13.65 400 13.8 380 13.99 360 14.15 350 14.35 360 14.55 350 14.65 355',
  '13.08 300 13.2 320 13.35 400 13.45 420 13.55 450 13.62 500 13.68 480 13.75 430 13.85 400 13.95 420 14.05 400 14.15 400 14.3 350 14.45 300 14.55 280 14.65 300',
  '12.67 300 12.75 450 12.85 350 13.0 300 13.15 280 13.34 300 13.45 350 13.55 400 13.65 350 13.75 450 13.83 350 13.95 400 14.05 350 14.14 300 14.3 300 14.5 280 14.67 300',
  '12.67 200 12.85 220 13.0 230 13.2 250 13.35 300 13.45 350 13.55 300 13.65 400 13.75 350 13.88 450 13.95 380 14.05 400 14.15 350 14.3 330 14.45 400 14.5 350 14.55 300',
  '12.67 500 12.75 350 12.9 300 13.05 300 13.2 320 13.35 400 13.45 500 13.55 600 13.6 800 13.65 700 13.68 1200 13.72 900 13.75 1000 13.8 700 13.85 900 13.9 600 13.95 800 14.0 600 14.05 500 14.15 400 14.3 450 14.45 400 14.55 500 14.67 500',
  '12.67 500 12.75 700 12.85 800 12.95 900 13.05 700 13.15 500 13.25 400 13.35 300 13.45 350 13.55 500 13.62 700 13.68 600 13.72 900 13.76 700 13.8 1000 13.85 700 13.9 600 13.95 900 14.0 500 14.05 400 14.15 400 14.25 450 14.38 400',
  '13.46 300 13.55 400 13.62 600 13.66 900 13.7 1200 13.73 1400 13.76 1600 13.8 1300 13.85 1000 13.9 700 13.95 500 14.0 400 14.07 350 14.14 350 14.25 400 14.35 550 14.42 600 14.47 350 14.52 300 14.58 300',
  '12.7 250 12.85 260 13.0 250 13.2 260 13.35 280 13.5 300 13.65 330 13.75 350 13.85 320 14.0 300 14.15 280 14.3 270 14.5 260 14.65 270',
  '12.7 260 12.85 250 13.0 260 13.2 270 13.35 290 13.5 300 13.65 320 13.72 340 13.85 310 14.0 300 14.15 290 14.3 280 14.5 270 14.65 260',
  '12.7 240 12.85 250 13.0 260 13.2 250 13.35 270 13.5 290 13.65 310 13.75 330 13.85 320 14.0 300 14.15 280 14.3 270 14.5 260 14.65 250',
  '12.67 400 12.8 350 13.0 300 13.2 280 13.35 300 13.5 350 13.6 450 13.66 600 13.7 800 13.74 1000 13.78 900 13.82 700 13.88 500 13.95 400 14.05 350 14.15 320 14.3 300 14.5 280 14.65 300',
  '12.67 350 12.8 300 13.0 280 13.2 260 13.35 280 13.5 350 13.6 500 13.66 900 13.7 1300 13.75 1700 13.78 1800 13.82 1400 13.87 900 13.93 600 14.0 450 14.1 380 14.2 350 14.35 320 14.5 300 14.65 310',
  '12.67 400 12.8 350 13.0 300 13.2 280 13.35 300 13.5 400 13.6 700 13.66 1400 13.7 2000 13.74 2600 13.78 2900 13.82 2300 13.86 1600 13.92 900 14.0 600 14.1 450 14.2 400 14.35 350 14.5 330 14.65 350',
  '12.7 250 12.85 260 13.0 250 13.2 260 13.35 280 13.5 290 13.65 320 13.75 340 13.85 310 14.0 300 14.15 280 14.3 270 14.5 260 14.65 260',
  '12.7 270 12.85 260 13.0 280 13.2 270 13.35 300 13.5 320 13.65 360 13.72 380 13.85 340 14.0 320 14.15 300 14.3 290 14.5 280 14.65 280',
  '12.7 250 12.85 260 13.0 250 13.2 260 13.4 270 13.6 280 13.8 300 13.95 320 14.1 340 14.25 350 14.4 330 14.5 340 14.6 380 14.65 360',
  '12.67 1000 12.72 1200 12.78 900 12.85 800 12.95 600 13.05 500 13.2 400 13.35 350 13.5 450 13.6 700 13.66 1000 13.7 1400 13.74 1700 13.78 1500 13.82 1200 13.88 800 13.95 600 14.05 450 14.15 400 14.3 350 14.5 330 14.65 350',
  '12.67 400 12.8 350 13.0 320 13.2 300 13.35 320 13.5 400 13.6 600 13.66 900 13.7 1200 13.75 1400 13.8 1200 13.85 900 13.92 600 14.0 450 14.15 380 14.3 350 14.5 320 14.65 330',
  '12.67 500 12.75 900 12.8 1100 12.87 700 12.95 500 13.1 400 13.25 350 13.35 350 13.5 400 13.6 550 13.68 800 13.74 1000 13.8 850 13.88 600 13.95 450 14.05 400 14.15 350 14.3 330 14.5 320 14.65 330',
  '12.67 450 12.8 400 13.0 350 13.2 320 13.35 350 13.5 450 13.6 800 13.65 1300 13.7 1900 13.74 2300 13.78 2100 13.82 1600 13.87 1100 13.93 700 14.0 500 14.15 400 14.3 380 14.5 350 14.65 370',
  '12.67 400 12.8 380 13.0 340 13.2 320 13.35 340 13.5 420 13.6 700 13.66 1100 13.7 1500 13.75 1800 13.8 1500 13.85 1100 13.92 700 14.0 500 14.15 400 14.3 370 14.5 350 14.65 360',
  '12.7 260 12.85 270 13.0 260 13.2 270 13.4 280 13.6 300 13.8 320 13.95 340 14.1 350 14.25 370 14.4 360 14.5 380 14.6 400 14.65 390',
  '12.67 600 12.75 500 12.85 550 13.0 450 13.15 400 13.35 350 13.5 500 13.57 1000 13.62 2500 13.66 4500 13.69 6500 13.71 7500 13.73 7000 13.75 8000 13.77 7200 13.8 6000 13.83 4500 13.86 3500 13.9 2500 13.95 1500 14.0 1000 14.08 700 14.15 600 14.25 500 14.35 600 14.45 450 14.55 500 14.65 450',
  '12.67 400 12.8 380 13.0 350 13.2 330 13.35 340 13.5 450 13.6 800 13.66 1300 13.7 1800 13.75 2200 13.8 1900 13.85 1400 13.92 900 14.0 600 14.15 450 14.3 400 14.5 380 14.65 400',
  '12.67 450 12.8 400 13.0 380 13.2 350 13.35 360 13.5 480 13.6 850 13.66 1400 13.7 1900 13.75 2300 13.8 2000 13.85 1500 13.92 950 14.0 650 14.15 480 14.3 420 14.5 400 14.65 420',
  '12.7 240 12.85 250 13.0 260 13.2 250 13.35 270 13.5 290 13.65 310 13.8 300 13.95 320 14.05 300 14.15 280 14.3 270 14.5 260 14.65 260',
  '12.7 250 12.85 260 13.0 250 13.2 260 13.35 280 13.5 300 13.65 320 13.8 310 13.9 330 14.05 300 14.15 290 14.3 280 14.5 270 14.65 270',
  '12.7 260 12.85 270 13.0 260 13.2 270 13.35 290 13.5 310 13.65 340 13.8 330 13.9 350 14.05 320 14.15 300 14.3 290 14.5 280 14.65 280',
  '12.67 500 12.8 450 13.0 400 13.2 350 13.35 380 13.5 600 13.58 1200 13.63 2200 13.67 3300 13.7 4000 13.73 4500 13.76 4800 13.79 4200 13.82 3400 13.86 2400 13.9 1600 13.95 1000 14.02 700 14.1 550 14.2 480 14.35 450 14.5 420 14.65 450',
  '12.67 450 12.8 420 13.0 380 13.2 350 13.35 360 13.5 550 13.58 1000 13.63 1800 13.67 2600 13.71 3200 13.75 3600 13.79 3200 13.83 2500 13.87 1800 13.92 1100 13.98 700 14.05 550 14.15 480 14.3 430 14.5 400 14.65 420',
  '12.67 480 12.8 440 13.0 400 13.2 370 13.35 380 13.5 580 13.58 1100 13.63 2000 13.67 3000 13.71 3700 13.75 4200 13.79 3800 13.83 2900 13.87 2000 13.92 1200 13.98 800 14.05 600 14.15 500 14.3 450 14.5 420 14.65 440',
  '12.77 1190 12.86 950 12.97 570 13.15 290 13.35 710 13.4 710 13.46 240 13.57 1120 13.6 1300 13.61 2190 13.63 4800 13.64 3500 13.66 9800 13.68 11000 13.69 12200 13.7 10500 13.71 15000 13.72 12000 13.73 11500 13.74 14100 13.75 11200 13.76 15860 13.77 15000 13.78 12900 13.79 13000 13.81 8850 13.82 9500 13.84 7660 13.85 6300 13.86 5040 13.88 4000 13.89 2900 13.91 3200 13.93 1950 13.95 2800 13.96 2780 13.98 1000 14.0 1200 14.05 1120 14.07 1400 14.09 1830 14.11 880 14.15 800 14.21 640 14.25 800 14.28 760 14.32 450 14.37 400 14.42 600 14.48 400 14.52 500 14.57 640 14.6 290',
  '12.67 400 12.8 380 13.0 350 13.2 320 13.35 340 13.5 450 13.6 800 13.66 1300 13.71 1700 13.75 1900 13.8 1600 13.85 1200 13.92 800 14.0 550 14.15 420 14.3 380 14.5 360 14.65 380',
  '12.67 380 12.8 360 13.0 340 13.2 320 13.35 330 13.5 420 13.6 700 13.66 1000 13.71 1250 13.75 1400 13.8 1200 13.86 900 13.93 600 14.0 450 14.15 380 14.3 350 14.5 340 14.65 350',
  '12.7 250 12.85 260 13.0 250 13.2 260 13.35 280 13.5 290 13.65 310 13.75 330 13.85 310 14.0 300 14.15 280 14.3 270 14.5 260 14.65 260',
  '12.7 260 12.85 250 13.0 260 13.2 270 13.35 280 13.5 300 13.65 320 13.78 340 13.9 310 14.0 300 14.15 290 14.3 280 14.5 270 14.65 270',
  '12.7 250 12.85 260 13.0 250 13.2 260 13.35 270 13.5 290 13.65 300 13.8 320 13.95 330 14.05 300 14.15 280 14.3 270 14.5 260 14.65 260',
  '12.67 450 12.8 400 13.0 380 13.2 350 13.35 360 13.5 550 13.58 1000 13.63 1700 13.67 2500 13.71 3100 13.75 3500 13.79 3100 13.83 2400 13.87 1700 13.92 1100 13.98 750 14.05 550 14.15 450 14.3 420 14.5 400 14.65 420',
  '12.67 350 12.8 330 13.0 310 13.2 300 13.35 310 13.5 380 13.6 550 13.67 750 13.72 900 13.76 950 13.81 800 13.87 600 13.95 450 14.05 380 14.2 340 14.4 320 14.55 310 14.65 320',
  '12.67 380 12.8 350 13.0 330 13.2 310 13.35 320 13.5 400 13.6 650 13.67 950 13.72 1200 13.77 1300 13.82 1100 13.88 800 13.95 550 14.05 420 14.2 370 14.4 340 14.55 330 14.65 340',
  '12.7 250 12.85 260 13.0 250 13.2 260 13.35 270 13.5 280 13.65 300 13.75 290 13.85 310 14.0 290 14.15 280 14.3 270 14.5 260 14.65 260',
  '12.7 250 12.85 260 13.0 250 13.2 270 13.35 280 13.5 330 13.6 380 13.7 450 13.78 500 13.85 420 13.95 360 14.05 320 14.15 300 14.3 280 14.5 270 14.65 270',
  '12.69 300 12.85 260 13.0 250 13.2 250 13.35 260 13.5 350 13.6 450 13.7 700 13.76 550 13.82 600 13.9 700 13.96 500 14.05 400 14.15 350 14.3 300 14.5 300',
  '12.74 490 12.85 350 13.0 250 13.2 250 13.35 250 13.5 280 13.6 300 13.65 800 13.7 1300 13.75 1500 13.8 1250 13.85 900 13.9 650 13.97 500 14.05 420 14.15 380 14.3 350 14.5 330 14.65 340',
  '12.67 350 12.8 330 13.0 310 13.2 300 13.35 310 13.5 380 13.6 550 13.67 780 13.72 900 13.76 950 13.81 820 13.87 600 13.95 450 14.05 380 14.2 340 14.4 320 14.55 320 14.65 330',
  '12.67 480 12.8 440 13.0 400 13.2 370 13.35 380 13.5 600 13.58 1200 13.63 2100 13.67 3100 13.71 3800 13.75 4300 13.79 3900 13.83 3000 13.87 2100 13.92 1300 13.98 850 14.05 650 14.15 520 14.3 470 14.5 440 14.65 460',
  '12.67 450 12.8 420 13.0 380 13.2 350 13.35 360 13.5 550 13.58 1000 13.63 1700 13.67 2500 13.71 3000 13.75 3300 13.79 3000 13.83 2300 13.87 1600 13.92 1000 13.98 700 14.05 550 14.15 470 14.3 430 14.5 410 14.65 430',
  '12.67 470 12.8 430 13.0 390 13.2 360 13.35 370 13.5 580 13.58 1100 13.63 2000 13.67 2900 13.71 3600 13.75 4000 13.79 3700 13.83 2800 13.87 2000 13.92 1200 13.98 800 14.05 600 14.15 500 14.3 450 14.5 430 14.65 450',
  '12.77 740 12.82 600 12.85 550 12.9 600 12.95 400 13.0 260 13.2 250 13.35 250 13.5 260 13.55 500 13.6 900 13.63 500 13.65 1800 13.68 2800 13.71 3500 13.74 4200 13.77 3800 13.8 3200 13.84 2500 13.88 1800 13.92 1200 13.96 900 14.0 700 14.05 500 14.14 400 14.2 500 14.3 600 14.4 700 14.45 500 14.52 450 14.62 300',
  '12.7 300 12.85 290 13.0 300 13.2 290 13.35 310 13.5 350 13.62 400 13.7 450 13.76 480 13.85 420 13.95 380 14.05 350 14.15 320 14.3 300 14.5 290 14.65 300',
  '12.7 290 12.85 300 13.0 290 13.2 300 13.35 310 13.5 360 13.62 410 13.7 460 13.76 470 13.85 410 13.95 370 14.05 340 14.15 320 14.3 310 14.5 300 14.65 300',
  '12.7 300 12.85 310 13.0 300 13.2 310 13.35 330 13.5 380 13.62 450 13.72 550 13.8 650 13.86 600 13.95 480 14.05 400 14.15 350 14.3 320 14.5 310 14.65 310',
  '12.67 400 12.75 550 12.82 450 12.95 350 13.1 330 13.25 320 13.35 320 13.5 450 13.6 800 13.66 1200 13.71 1500 13.76 1600 13.81 1400 13.87 1000 13.94 700 14.02 500 14.15 400 14.3 380 14.5 360 14.65 370',
  '12.7 250 12.85 280 13.0 270 13.2 280 13.35 300 13.5 400 13.6 550 13.66 700 13.72 850 13.77 900 13.82 800 13.9 600 13.98 500 14.05 450 14.15 400 14.3 500 14.45 350 14.6 380',
];

const FONT = 'DejaVu Sans, Verdana, sans-serif';
const CYAN = '#00bfbf';

const x = d3.scaleLinear().domain(X_DOMAIN).range([0, PANEL_W]);
const y = d3.scaleLinear().domain([0, Y_MAX]).range([PANEL_H, 0]);
const yEmpty = d3.scaleLinear().domain([0, 1]).range([PANEL_H, 0]);

const parseTrace = (s: string): [number, number][] => {
  const n = s.trim().split(/\s+/).map(Number);
  const pts: [number, number][] = [];
  for (let i = 0; i + 1 < n.length; i += 2) pts.push([n[i], n[i + 1]]);
  return pts;
};

const traceLine = d3.line<[number, number]>()
  .x(d => x(d[0]))
  .y(d => y(d[1]));

const panelLeft = (col: number) => 59 + col * 359.1;
const panelTop = (row: number) => 25 + row * 359.3;

const Frame: React.FC<{ yScale: d3.ScaleLinear<number, number>; yValues: number[]; yFormat: (v: number) => string }> = ({ yScale, yValues, yFormat }) => (
  <g>
    <rect x={0} y={0} width={PANEL_W} height={PANEL_H} fill="none" stroke="#000" strokeWidth={1.2} />
    {xTicks.map(t => (
      <g key={`x${t}`}>
        <line x1={x(t)} x2={x(t)} y1={PANEL_H} y2={PANEL_H - 4} stroke="#000" strokeWidth={1} />
        <line x1={x(t)} x2={x(t)} y1={0} y2={4} stroke="#000" strokeWidth={1} />
        <text x={x(t)} y={PANEL_H + 13.5} textAnchor="middle" fontSize={10} fontFamily={FONT}>{t.toFixed(1)}</text>
      </g>
    ))}
    {yValues.map(v => (
      <g key={`y${v}`}>
        <line x1={0} x2={4} y1={yScale(v)} y2={yScale(v)} stroke="#000" strokeWidth={1} />
        <line x1={PANEL_W} x2={PANEL_W - 4} y1={yScale(v)} y2={yScale(v)} stroke="#000" strokeWidth={1} />
        <text x={-4} y={yScale(v)} dy="0.36em" textAnchor="end" fontSize={10} fontFamily={FONT}>{yFormat(v)}</text>
      </g>
    ))}
  </g>
);

const Panel: React.FC<{ i: number }> = ({ i }) => {
  const row = Math.floor(i / COLS);
  const col = i % COLS;
  const lo = boxStart[i];
  const hi = lo + BOX_WIDTH;
  const pts = parseTrace(traces[i]);
  return (
    <g transform={`translate(${panelLeft(col)},${panelTop(row)})`}>
      <text x={PANEL_W / 2} y={-4.5} textAnchor="middle" fontSize={12} fontFamily={FONT}>{panelTitles[i]}</text>
      <g clipPath="url(#plot-clip)">
        <rect x={x(lo)} y={y(boxHeight[i])} width={x(hi) - x(lo)} height={y(0) - y(boxHeight[i])}
          fill={CYAN} stroke="#000" strokeWidth={2} />
        <path d={traceLine(pts) || ''} fill="none" stroke="#000" strokeWidth={2} strokeLinejoin="round" />
        <line x1={x(lo)} x2={x(lo)} y1={0} y2={PANEL_H} stroke="#000" strokeWidth={2.5} />
        <line x1={x(hi)} x2={x(hi)} y1={0} y2={PANEL_H} stroke="#000" strokeWidth={2.5} />
        <line x1={x(greenLine[i])} x2={x(greenLine[i])} y1={0} y2={PANEL_H} stroke="rgba(0,128,0,0.5)" strokeWidth={2.2} />
        <line x1={x(redLine[i])} x2={x(redLine[i])} y1={0} y2={PANEL_H} stroke="#ff0000" strokeWidth={2.2} />
      </g>
      <Frame yScale={y} yValues={yTicks} yFormat={v => String(v)} />
      <text x={PANEL_W / 2} y={PANEL_H + 26} textAnchor="middle" fontSize={10} fontFamily={FONT}>Time (min)</text>
      <text transform={`translate(-43.5,${PANEL_H / 2}) rotate(-90)`} textAnchor="middle" fontSize={10} fontFamily={FONT}>Intensity (au)</text>
    </g>
  );
};

const EmptyPanel: React.FC<{ i: number }> = ({ i }) => {
  const row = Math.floor(i / COLS);
  const col = i % COLS;
  return (
    <g transform={`translate(${panelLeft(col)},${panelTop(row)})`}>
      <Frame yScale={yEmpty} yValues={emptyYTicks} yFormat={v => v.toFixed(1)} />
    </g>
  );
};

const App: React.FC = () => {
  const n = panelTitles.length;
  const empties = d3.range(n, n + EMPTY_PANELS);
  return (
    <svg width={3511} height={4096} viewBox="0 0 4320 5040"
      style={{ position: 'absolute', left: 0, top: 0, background: '#fff' }}>
      <defs>
        <clipPath id="plot-clip">
          <rect x={0} y={0} width={PANEL_W} height={PANEL_H} />
        </clipPath>
      </defs>
      <rect x={0} y={0} width={4320} height={5040} fill="#fff" />
      {d3.range(n).map(i => <Panel key={i} i={i} />)}
      {empties.map(i => <EmptyPanel key={i} i={i} />)}
    </svg>
  );
};

export default App;
